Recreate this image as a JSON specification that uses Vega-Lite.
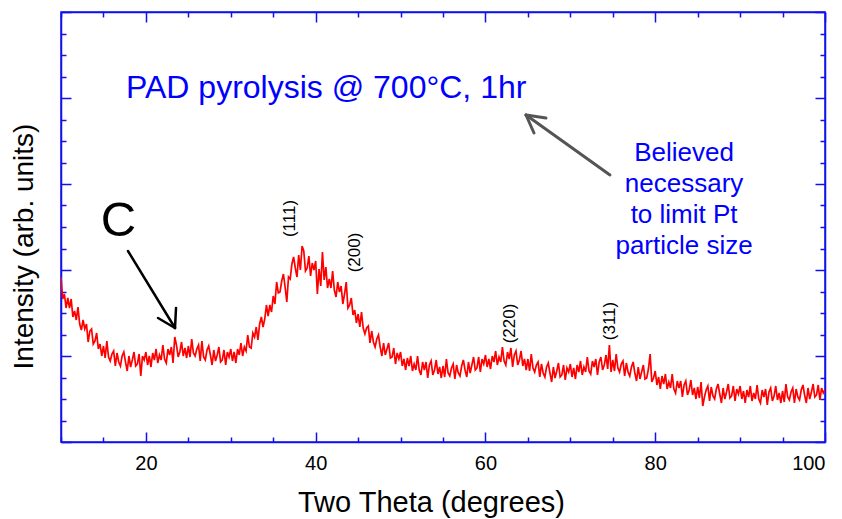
{
  "$schema": "https://vega.github.io/schema/vega-lite/v6.json",
  "width": 764,
  "height": 430,
  "autosize": "none",
  "padding": {"left": 61, "top": 12, "right": 17, "bottom": 77},
  "background": "white",
  "config": {
    "view": {"stroke": "#1010ee", "strokeWidth": 1.5},
    "font": "Liberation Sans",
    "axis": {"grid": false, "domainColor": "#1010ee", "domainWidth": 1.5, "tickColor": "#1010ee", "tickWidth": 1.5, "labelFont": "Liberation Sans", "titleFont": "Liberation Sans", "labelColor": "black", "titleColor": "black", "titleFontWeight": "normal"}
  },
  "datasets": {
    "xrd": [
      {"theta":10.0,"counts":165},{"theta":10.2,"counts":143},{"theta":10.4,"counts":148},{"theta":10.6,"counts":134},{"theta":10.8,"counts":144},
      {"theta":11.0,"counts":134},{"theta":11.2,"counts":143},{"theta":11.4,"counts":125},{"theta":11.6,"counts":131},{"theta":11.8,"counts":122},
      {"theta":12.0,"counts":135},{"theta":12.2,"counts":118},{"theta":12.4,"counts":112},{"theta":12.6,"counts":122},{"theta":12.8,"counts":113},
      {"theta":13.0,"counts":118},{"theta":13.2,"counts":100},{"theta":13.4,"counts":111},{"theta":13.6,"counts":113},{"theta":13.8,"counts":98},
      {"theta":14.0,"counts":101},{"theta":14.2,"counts":109},{"theta":14.4,"counts":93},{"theta":14.6,"counts":98},{"theta":14.8,"counts":86},
      {"theta":15.0,"counts":96},{"theta":15.2,"counts":84},{"theta":15.4,"counts":101},{"theta":15.6,"counts":85},{"theta":15.8,"counts":81},
      {"theta":16.0,"counts":88},{"theta":16.2,"counts":91},{"theta":16.4,"counts":76},{"theta":16.6,"counts":89},{"theta":16.8,"counts":80},
      {"theta":17.0,"counts":76},{"theta":17.2,"counts":86},{"theta":17.4,"counts":90},{"theta":17.6,"counts":80},{"theta":17.8,"counts":71},
      {"theta":18.0,"counts":86},{"theta":18.2,"counts":75},{"theta":18.4,"counts":82},{"theta":18.6,"counts":90},{"theta":18.8,"counts":76},
      {"theta":19.0,"counts":78},{"theta":19.2,"counts":88},{"theta":19.4,"counts":66},{"theta":19.6,"counts":86},{"theta":19.8,"counts":82},
      {"theta":20.0,"counts":90},{"theta":20.2,"counts":77},{"theta":20.4,"counts":86},{"theta":20.6,"counts":75},{"theta":20.8,"counts":89},
      {"theta":21.0,"counts":82},{"theta":21.2,"counts":93},{"theta":21.4,"counts":79},{"theta":21.6,"counts":87},{"theta":21.8,"counts":82},
      {"theta":22.0,"counts":97},{"theta":22.2,"counts":83},{"theta":22.4,"counts":79},{"theta":22.6,"counts":93},{"theta":22.8,"counts":87},
      {"theta":23.0,"counts":95},{"theta":23.2,"counts":79},{"theta":23.4,"counts":105},{"theta":23.6,"counts":97},{"theta":23.8,"counts":85},
      {"theta":24.0,"counts":90},{"theta":24.2,"counts":100},{"theta":24.4,"counts":86},{"theta":24.6,"counts":94},{"theta":24.8,"counts":84},
      {"theta":25.0,"counts":96},{"theta":25.2,"counts":85},{"theta":25.4,"counts":103},{"theta":25.6,"counts":89},{"theta":25.8,"counts":86},
      {"theta":26.0,"counts":93},{"theta":26.2,"counts":97},{"theta":26.4,"counts":81},{"theta":26.6,"counts":101},{"theta":26.8,"counts":85},
      {"theta":27.0,"counts":82},{"theta":27.2,"counts":92},{"theta":27.4,"counts":96},{"theta":27.6,"counts":87},{"theta":27.8,"counts":77},
      {"theta":28.0,"counts":92},{"theta":28.2,"counts":81},{"theta":28.4,"counts":87},{"theta":28.6,"counts":95},{"theta":28.8,"counts":80},
      {"theta":29.0,"counts":82},{"theta":29.2,"counts":92},{"theta":29.4,"counts":77},{"theta":29.6,"counts":90},{"theta":29.8,"counts":85},
      {"theta":30.0,"counts":93},{"theta":30.2,"counts":81},{"theta":30.4,"counts":90},{"theta":30.6,"counts":79},{"theta":30.8,"counts":93},
      {"theta":31.0,"counts":87},{"theta":31.2,"counts":99},{"theta":31.4,"counts":86},{"theta":31.6,"counts":95},{"theta":31.8,"counts":91},
      {"theta":32.0,"counts":107},{"theta":32.2,"counts":95},{"theta":32.4,"counts":94},{"theta":32.6,"counts":109},{"theta":32.8,"counts":105},
      {"theta":33.0,"counts":115},{"theta":33.2,"counts":102},{"theta":33.4,"counts":118},{"theta":33.6,"counts":125},{"theta":33.8,"counts":115},
      {"theta":34.0,"counts":123},{"theta":34.2,"counts":137},{"theta":34.4,"counts":126},{"theta":34.6,"counts":137},{"theta":34.8,"counts":130},
      {"theta":35.0,"counts":146},{"theta":35.2,"counts":138},{"theta":35.4,"counts":160},{"theta":35.6,"counts":149},{"theta":35.8,"counts":150},
      {"theta":36.0,"counts":161},{"theta":36.2,"counts":168},{"theta":36.4,"counts":155},{"theta":36.6,"counts":140},{"theta":36.8,"counts":165},
      {"theta":37.0,"counts":163},{"theta":37.2,"counts":178},{"theta":37.4,"counts":185},{"theta":37.6,"counts":174},{"theta":37.8,"counts":165},
      {"theta":38.0,"counts":187},{"theta":38.2,"counts":172},{"theta":38.4,"counts":196},{"theta":38.6,"counts":191},{"theta":38.8,"counts":171},
      {"theta":39.0,"counts":174},{"theta":39.2,"counts":186},{"theta":39.4,"counts":166},{"theta":39.6,"counts":179},{"theta":39.8,"counts":172},
      {"theta":40.0,"counts":181},{"theta":40.2,"counts":148},{"theta":40.4,"counts":173},{"theta":40.6,"counts":156},{"theta":40.8,"counts":190},
      {"theta":41.0,"counts":162},{"theta":41.2,"counts":175},{"theta":41.4,"counts":154},{"theta":41.6,"counts":163},{"theta":41.8,"counts":154},
      {"theta":42.0,"counts":171},{"theta":42.2,"counts":152},{"theta":42.4,"counts":145},{"theta":42.6,"counts":160},{"theta":42.8,"counts":150},
      {"theta":43.0,"counts":156},{"theta":43.2,"counts":138},{"theta":43.4,"counts":148},{"theta":43.6,"counts":160},{"theta":43.8,"counts":134},
      {"theta":44.0,"counts":137},{"theta":44.2,"counts":144},{"theta":44.4,"counts":127},{"theta":44.6,"counts":132},{"theta":44.8,"counts":119},
      {"theta":45.0,"counts":128},{"theta":45.2,"counts":115},{"theta":45.4,"counts":130},{"theta":45.6,"counts":114},{"theta":45.8,"counts":108},
      {"theta":46.0,"counts":114},{"theta":46.2,"counts":116},{"theta":46.4,"counts":99},{"theta":46.6,"counts":111},{"theta":46.8,"counts":100},
      {"theta":47.0,"counts":95},{"theta":47.2,"counts":103},{"theta":47.4,"counts":107},{"theta":47.6,"counts":95},{"theta":47.8,"counts":86},
      {"theta":48.0,"counts":99},{"theta":48.2,"counts":87},{"theta":48.4,"counts":93},{"theta":48.6,"counts":99},{"theta":48.8,"counts":84},
      {"theta":49.0,"counts":85},{"theta":49.2,"counts":94},{"theta":49.4,"counts":78},{"theta":49.6,"counts":89},{"theta":49.8,"counts":83},
      {"theta":50.0,"counts":90},{"theta":50.2,"counts":76},{"theta":50.4,"counts":83},{"theta":50.6,"counts":72},{"theta":50.8,"counts":84},
      {"theta":51.0,"counts":76},{"theta":51.2,"counts":86},{"theta":51.4,"counts":71},{"theta":51.6,"counts":78},{"theta":51.8,"counts":72},
      {"theta":52.0,"counts":86},{"theta":52.2,"counts":72},{"theta":52.4,"counts":67},{"theta":52.6,"counts":80},{"theta":52.8,"counts":72},
      {"theta":53.0,"counts":80},{"theta":53.2,"counts":64},{"theta":53.4,"counts":77},{"theta":53.6,"counts":81},{"theta":53.8,"counts":67},
      {"theta":54.0,"counts":72},{"theta":54.2,"counts":82},{"theta":54.4,"counts":68},{"theta":54.6,"counts":75},{"theta":54.8,"counts":64},
      {"theta":55.0,"counts":76},{"theta":55.2,"counts":65},{"theta":55.4,"counts":83},{"theta":55.6,"counts":69},{"theta":55.8,"counts":66},
      {"theta":56.0,"counts":74},{"theta":56.2,"counts":78},{"theta":56.4,"counts":63},{"theta":56.6,"counts":77},{"theta":56.8,"counts":69},
      {"theta":57.0,"counts":66},{"theta":57.2,"counts":76},{"theta":57.4,"counts":82},{"theta":57.6,"counts":72},{"theta":57.8,"counts":65},
      {"theta":58.0,"counts":80},{"theta":58.2,"counts":69},{"theta":58.4,"counts":77},{"theta":58.6,"counts":85},{"theta":58.8,"counts":72},
      {"theta":59.0,"counts":74},{"theta":59.2,"counts":85},{"theta":59.4,"counts":70},{"theta":59.6,"counts":83},{"theta":59.8,"counts":78},
      {"theta":60.0,"counts":87},{"theta":60.2,"counts":75},{"theta":60.4,"counts":83},{"theta":60.6,"counts":73},{"theta":60.8,"counts":86},
      {"theta":61.0,"counts":80},{"theta":61.2,"counts":91},{"theta":61.4,"counts":77},{"theta":61.6,"counts":85},{"theta":61.8,"counts":80},
      {"theta":62.0,"counts":95},{"theta":62.2,"counts":81},{"theta":62.4,"counts":77},{"theta":62.6,"counts":90},{"theta":62.8,"counts":83},
      {"theta":63.0,"counts":94},{"theta":63.2,"counts":75},{"theta":63.4,"counts":87},{"theta":63.6,"counts":91},{"theta":63.8,"counts":77},
      {"theta":64.0,"counts":82},{"theta":64.2,"counts":91},{"theta":64.4,"counts":76},{"theta":64.6,"counts":83},{"theta":64.8,"counts":72},
      {"theta":65.0,"counts":83},{"theta":65.2,"counts":71},{"theta":65.4,"counts":88},{"theta":65.6,"counts":74},{"theta":65.8,"counts":70},
      {"theta":66.0,"counts":77},{"theta":66.2,"counts":80},{"theta":66.4,"counts":65},{"theta":66.6,"counts":78},{"theta":66.8,"counts":69},
      {"theta":67.0,"counts":65},{"theta":67.2,"counts":75},{"theta":67.4,"counts":79},{"theta":67.6,"counts":69},{"theta":67.8,"counts":60},
      {"theta":68.0,"counts":75},{"theta":68.2,"counts":64},{"theta":68.4,"counts":71},{"theta":68.6,"counts":79},{"theta":68.8,"counts":65},
      {"theta":69.0,"counts":67},{"theta":69.2,"counts":77},{"theta":69.4,"counts":62},{"theta":69.6,"counts":74},{"theta":69.8,"counts":70},
      {"theta":70.0,"counts":78},{"theta":70.2,"counts":65},{"theta":70.4,"counts":74},{"theta":70.6,"counts":63},{"theta":70.8,"counts":77},
      {"theta":71.0,"counts":70},{"theta":71.2,"counts":81},{"theta":71.4,"counts":67},{"theta":71.6,"counts":75},{"theta":71.8,"counts":70},
      {"theta":72.0,"counts":85},{"theta":72.2,"counts":71},{"theta":72.4,"counts":68},{"theta":72.6,"counts":81},{"theta":72.8,"counts":75},
      {"theta":73.0,"counts":83},{"theta":73.2,"counts":67},{"theta":73.4,"counts":80},{"theta":73.6,"counts":85},{"theta":73.8,"counts":72},
      {"theta":74.0,"counts":77},{"theta":74.2,"counts":87},{"theta":74.4,"counts":73},{"theta":74.6,"counts":97},{"theta":74.8,"counts":70},
      {"theta":75.0,"counts":82},{"theta":75.2,"counts":71},{"theta":75.4,"counts":88},{"theta":75.6,"counts":74},{"theta":75.8,"counts":70},
      {"theta":76.0,"counts":78},{"theta":76.2,"counts":81},{"theta":76.4,"counts":66},{"theta":76.6,"counts":79},{"theta":76.8,"counts":70},
      {"theta":77.0,"counts":66},{"theta":77.2,"counts":75},{"theta":77.4,"counts":80},{"theta":77.6,"counts":69},{"theta":77.8,"counts":61},
      {"theta":78.0,"counts":75},{"theta":78.2,"counts":63},{"theta":78.4,"counts":70},{"theta":78.6,"counts":77},{"theta":78.8,"counts":63},
      {"theta":79.0,"counts":64},{"theta":79.2,"counts":73},{"theta":79.4,"counts":88},{"theta":79.6,"counts":60},{"theta":79.8,"counts":64},
      {"theta":80.0,"counts":71},{"theta":80.2,"counts":57},{"theta":80.4,"counts":65},{"theta":80.6,"counts":53},{"theta":80.8,"counts":66},
      {"theta":81.0,"counts":58},{"theta":81.2,"counts":68},{"theta":81.4,"counts":53},{"theta":81.6,"counts":60},{"theta":81.8,"counts":54},
      {"theta":82.0,"counts":68},{"theta":82.2,"counts":53},{"theta":82.4,"counts":49},{"theta":82.6,"counts":61},{"theta":82.8,"counts":54},
      {"theta":83.0,"counts":61},{"theta":83.2,"counts":45},{"theta":83.4,"counts":57},{"theta":83.6,"counts":61},{"theta":83.8,"counts":47},
      {"theta":84.0,"counts":52},{"theta":84.2,"counts":62},{"theta":84.4,"counts":47},{"theta":84.6,"counts":54},{"theta":84.8,"counts":43},
      {"theta":85.0,"counts":55},{"theta":85.2,"counts":44},{"theta":85.4,"counts":60},{"theta":85.6,"counts":36},{"theta":85.8,"counts":45},
      {"theta":86.0,"counts":52},{"theta":86.2,"counts":56},{"theta":86.4,"counts":41},{"theta":86.6,"counts":55},{"theta":86.8,"counts":46},
      {"theta":87.0,"counts":43},{"theta":87.2,"counts":53},{"theta":87.4,"counts":58},{"theta":87.6,"counts":48},{"theta":87.8,"counts":39},
      {"theta":88.0,"counts":54},{"theta":88.2,"counts":43},{"theta":88.4,"counts":50},{"theta":88.6,"counts":58},{"theta":88.8,"counts":44},
      {"theta":89.0,"counts":46},{"theta":89.2,"counts":56},{"theta":89.4,"counts":41},{"theta":89.6,"counts":53},{"theta":89.8,"counts":48},
      {"theta":90.0,"counts":56},{"theta":90.2,"counts":43},{"theta":90.4,"counts":51},{"theta":90.6,"counts":39},{"theta":90.8,"counts":52},
      {"theta":91.0,"counts":45},{"theta":91.2,"counts":56},{"theta":91.4,"counts":41},{"theta":91.6,"counts":49},{"theta":91.8,"counts":43},
      {"theta":92.0,"counts":57},{"theta":92.2,"counts":43},{"theta":92.4,"counts":39},{"theta":92.6,"counts":52},{"theta":92.8,"counts":45},
      {"theta":93.0,"counts":53},{"theta":93.2,"counts":37},{"theta":93.4,"counts":50},{"theta":93.6,"counts":54},{"theta":93.8,"counts":41},
      {"theta":94.0,"counts":46},{"theta":94.2,"counts":56},{"theta":94.4,"counts":42},{"theta":94.6,"counts":49},{"theta":94.8,"counts":39},
      {"theta":95.0,"counts":51},{"theta":95.2,"counts":40},{"theta":95.4,"counts":58},{"theta":95.6,"counts":45},{"theta":95.8,"counts":42},
      {"theta":96.0,"counts":50},{"theta":96.2,"counts":54},{"theta":96.4,"counts":39},{"theta":96.6,"counts":53},{"theta":96.8,"counts":45},
      {"theta":97.0,"counts":42},{"theta":97.2,"counts":52},{"theta":97.4,"counts":57},{"theta":97.6,"counts":47},{"theta":97.8,"counts":39},
      {"theta":98.0,"counts":54},{"theta":98.2,"counts":43},{"theta":98.4,"counts":50},{"theta":98.6,"counts":58},{"theta":98.8,"counts":45},
      {"theta":99.0,"counts":47},{"theta":99.2,"counts":57},{"theta":99.4,"counts":42},{"theta":99.6,"counts":54},{"theta":99.8,"counts":49},
      {"theta":100.0,"counts":52}
    ]
  },
  "resolve": {"axis": {"x": "independent", "y": "independent"}},
  "layer": [
    {
      "data": {"name": "xrd"},
      "mark": {"type": "line", "color": "#ff0000", "strokeWidth": 1.7, "clip": true},
      "encoding": {
        "x": {"field": "theta", "type": "quantitative", "scale": {"domain": [10, 100], "nice": false, "zero": false},
          "axis": {"orient": "bottom", "title": "Two Theta (degrees)", "titleFontSize": 29, "titlePadding": 15, "titleX": 370,
            "values": [10,15,20,25,30,35,40,45,50,55,60,65,70,75,80,85,90,95,100],
            "labelExpr": "datum.value % 20 === 0 ? datum.label : ''",
            "labelFontSize": 20, "labelPadding": 21,
            "tickSize": {"condition": {"test": "datum.value % 20 === 0", "value": -10}, "value": -5}}},
        "y": {"field": "counts", "type": "quantitative", "scale": {"domain": [0, 430], "nice": false, "zero": false},
          "axis": {"orient": "left", "title": "Intensity (arb. units)", "titleFontSize": 28, "titleX": -23, "titleY": 234, "titleBaseline": "bottom",
            "labels": false,
            "values": [0,21.5,43,64.5,86,107.5,129,150.5,172,193.5,215,236.5,258,279.5,301,322.5,344,365.5,387,408.5,430],
            "tickSize": {"condition": {"test": "datum.value % 86 === 0", "value": -10}, "value": -5}}}
      }
    },
    {
      "data": {"name": "xrd"},
      "mark": {"type": "point", "opacity": 0},
      "encoding": {
        "x": {"field": "theta", "type": "quantitative",
          "axis": {"orient": "top", "title": null, "labels": false,
            "values": [10,15,20,25,30,35,40,45,50,55,60,65,70,75,80,85,90,95,100],
            "tickSize": {"condition": {"test": "datum.value % 20 === 0", "value": -10}, "value": -5}}},
        "y": {"field": "counts", "type": "quantitative",
          "axis": {"orient": "right", "title": null, "labels": false,
            "values": [0,21.5,43,64.5,86,107.5,129,150.5,172,193.5,215,236.5,258,279.5,301,322.5,344,365.5,387,408.5,430],
            "tickSize": {"condition": {"test": "datum.value % 86 === 0", "value": -10}, "value": -5}}}
      }
    },
    {
      "data": {"values": [
        {"theta": 17.89, "counts": 191, "theta2": 23.43, "counts2": 114},
        {"theta": 21.43, "counts": 124, "theta2": 23.43, "counts2": 114},
        {"theta": 23.55, "counts": 134, "theta2": 23.43, "counts2": 114}
      ]},
      "mark": {"type": "rule", "color": "black", "strokeWidth": 2.5, "strokeCap": "round"},
      "encoding": {
        "x": {"field": "theta", "type": "quantitative", "axis": null},
        "y": {"field": "counts", "type": "quantitative", "axis": null},
        "x2": {"field": "theta2"},
        "y2": {"field": "counts2"}
      }
    },
    {
      "data": {"values": [
        {"theta": 74.67, "counts": 267, "theta2": 64.78, "counts2": 327},
        {"theta": 67.13, "counts": 324, "theta2": 64.78, "counts2": 327},
        {"theta": 65.72, "counts": 309, "theta2": 64.78, "counts2": 327}
      ]},
      "mark": {"type": "rule", "color": "#555555", "strokeWidth": 3, "strokeCap": "round"},
      "encoding": {
        "x": {"field": "theta", "type": "quantitative", "axis": null},
        "y": {"field": "counts", "type": "quantitative", "axis": null},
        "x2": {"field": "theta2"},
        "y2": {"field": "counts2"}
      }
    },
    {
      "data": {"values": [{"theta": 17.66, "counts": 344, "label": "PAD pyrolysis @ 700°C, 1hr"}]},
      "mark": {"type": "text", "color": "#0000ff", "fontSize": 32, "align": "left", "baseline": "alphabetic", "font": "Liberation Sans"},
      "encoding": {
        "x": {"field": "theta", "type": "quantitative", "axis": null},
        "y": {"field": "counts", "type": "quantitative", "axis": null},
        "text": {"field": "label"}
      }
    },
    {
      "data": {"values": [
        {"theta": 83.4, "counts": 281, "label": "Believed"},
        {"theta": 83.4, "counts": 250, "label": "necessary"},
        {"theta": 83.4, "counts": 219, "label": "to limit Pt"},
        {"theta": 83.4, "counts": 188, "label": "particle size"}
      ]},
      "mark": {"type": "text", "color": "#0000ff", "fontSize": 26, "align": "center", "baseline": "alphabetic", "font": "Liberation Sans"},
      "encoding": {
        "x": {"field": "theta", "type": "quantitative", "axis": null},
        "y": {"field": "counts", "type": "quantitative", "axis": null},
        "text": {"field": "label"}
      }
    },
    {
      "data": {"values": [{"theta": 16.77, "counts": 206, "label": "C"}]},
      "mark": {"type": "text", "color": "black", "fontSize": 49, "align": "center", "baseline": "alphabetic", "font": "Liberation Sans"},
      "encoding": {
        "x": {"field": "theta", "type": "quantitative", "axis": null},
        "y": {"field": "counts", "type": "quantitative", "axis": null},
        "text": {"field": "label"}
      }
    },
    {
      "data": {"values": [
        {"theta": 36.98, "counts": 223.5, "label": "(111)"},
        {"theta": 44.63, "counts": 189.5, "label": "(200)"},
        {"theta": 62.89, "counts": 118.5, "label": "(220)"},
        {"theta": 74.73, "counts": 121, "label": "(311)"}
      ]},
      "mark": {"type": "text", "color": "black", "fontSize": 17, "angle": 270, "align": "center", "baseline": "middle", "font": "Liberation Sans"},
      "encoding": {
        "x": {"field": "theta", "type": "quantitative", "axis": null},
        "y": {"field": "counts", "type": "quantitative", "axis": null},
        "text": {"field": "label"}
      }
    }
  ]
}
